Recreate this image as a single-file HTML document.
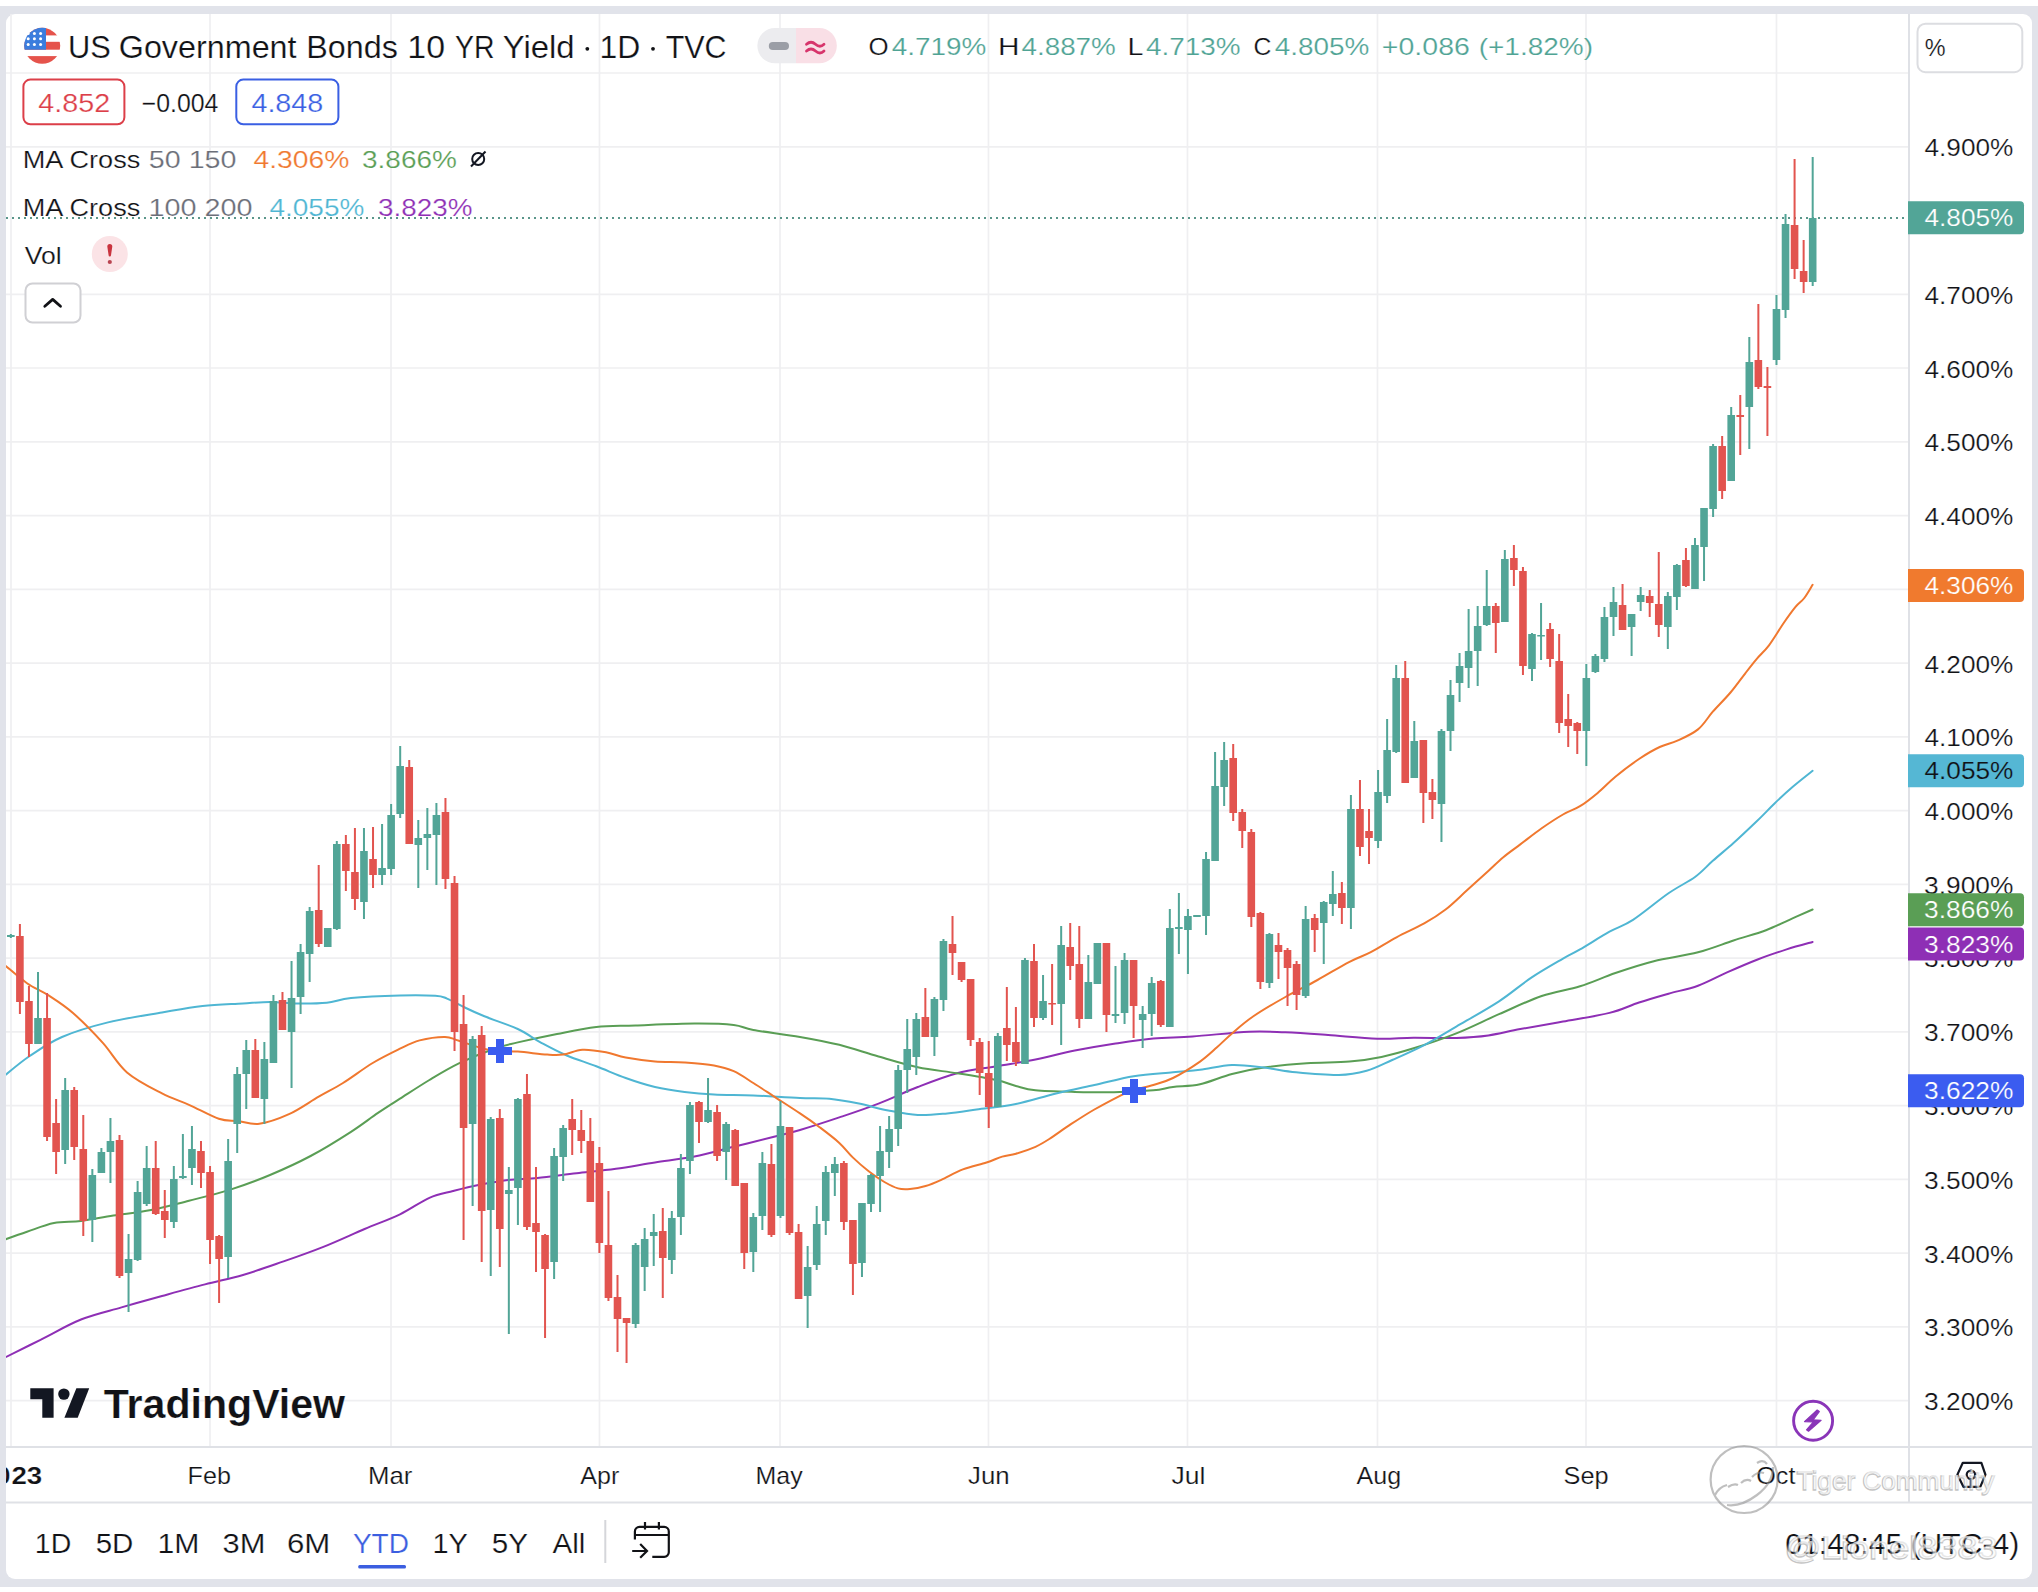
<!DOCTYPE html>
<html><head><meta charset="utf-8">
<style>
html,body{margin:0;padding:0;background:#fff;}
body{width:2038px;height:1592px;overflow:hidden;position:relative;font-family:"Liberation Sans", sans-serif;}
svg{position:absolute;left:0;top:0;}
svg text{font-family:"Liberation Sans", sans-serif;}
</style></head><body>
<svg width="2038" height="1592" viewBox="0 0 2038 1592">
<rect x="0" y="0" width="2038" height="1592" fill="#ffffff"/>
<rect x="0" y="6" width="2038" height="1581" fill="#e1e3ea"/>
<rect x="6" y="14" width="2026" height="1565" rx="9" fill="#ffffff"/>
<path d="M6 73.0H1908 M6 146.8H1908 M6 294.3H1908 M6 368.0H1908 M6 441.8H1908 M6 515.6H1908 M6 589.3H1908 M6 663.1H1908 M6 736.8H1908 M6 810.6H1908 M6 884.4H1908 M6 958.1H1908 M6 1031.9H1908 M6 1105.6H1908 M6 1179.4H1908 M6 1253.2H1908 M6 1326.9H1908 M6 1400.7H1908 M11 14V1446 M210 14V1446 M391 14V1446 M599.5 14V1446 M780 14V1446 M988.5 14V1446 M1187.5 14V1446 M1377.5 14V1446 M1586 14V1446 M1776.5 14V1446" stroke="#efeff1" stroke-width="1.7" fill="none"/>
<path d="M1909 14V1502M6 1447H2032M6 1502.5H2032" stroke="#dfe1e6" stroke-width="2" fill="none"/>
<defs><clipPath id="cp"><rect x="6" y="14" width="1902" height="1432"/></clipPath></defs>
<g clip-path="url(#cp)">
<path d="M5.4 1357.3 C11.2 1354.4 27.9 1346.1 40.5 1339.8 C53.1 1333.5 67.5 1324.9 81.0 1319.5 C94.5 1314.1 108.0 1311.3 121.5 1307.4 C135.0 1303.5 148.1 1299.8 162.0 1296.0 C175.9 1292.2 191.5 1287.9 205.0 1284.4 C218.5 1280.9 229.9 1278.8 243.0 1275.0 C256.1 1271.2 270.1 1266.1 283.6 1261.4 C297.1 1256.7 310.5 1252.0 324.0 1246.6 C337.5 1241.2 351.9 1234.4 364.6 1229.0 C377.3 1223.6 389.2 1219.5 400.0 1214.3 C410.8 1209.1 420.6 1201.7 429.4 1197.8 C438.2 1193.9 444.8 1193.1 453.0 1191.0 C461.2 1188.9 469.3 1186.8 478.5 1185.0 C487.7 1183.2 498.2 1181.2 508.0 1180.0 C517.8 1178.8 526.0 1179.1 537.4 1178.0 C548.8 1176.9 563.5 1174.8 576.6 1173.3 C589.7 1171.8 602.8 1170.6 615.9 1168.8 C629.0 1167.0 641.9 1164.5 655.0 1162.5 C668.1 1160.5 681.3 1159.2 694.4 1156.6 C707.5 1154.0 720.6 1150.1 733.7 1146.8 C746.8 1143.5 762.0 1139.8 773.0 1137.0 C784.0 1134.2 789.0 1133.3 800.0 1130.0 C811.0 1126.7 826.2 1121.8 839.3 1117.4 C852.4 1113.0 865.4 1108.7 878.5 1103.6 C891.6 1098.5 904.7 1092.1 917.8 1087.0 C930.9 1081.9 943.9 1076.7 957.0 1073.2 C970.1 1069.8 983.2 1068.6 996.3 1066.3 C1009.4 1064.0 1022.4 1062.1 1035.5 1059.5 C1048.6 1056.9 1061.7 1053.2 1074.8 1050.6 C1087.9 1048.0 1100.9 1045.8 1114.0 1043.8 C1127.1 1041.8 1140.2 1039.7 1153.3 1038.5 C1166.4 1037.3 1176.5 1037.6 1192.5 1036.5 C1208.5 1035.4 1233.5 1032.4 1249.0 1031.7 C1264.5 1031.0 1272.2 1031.8 1285.4 1032.3 C1298.6 1032.8 1312.8 1033.9 1328.1 1035.0 C1343.4 1036.1 1363.0 1038.2 1377.3 1038.7 C1391.5 1039.2 1400.4 1037.8 1413.6 1037.7 C1426.8 1037.6 1443.8 1038.4 1456.3 1038.0 C1468.8 1037.6 1477.6 1037.0 1488.3 1035.5 C1499.0 1034.0 1507.8 1031.4 1520.3 1029.1 C1532.8 1026.8 1548.1 1024.3 1563.0 1021.6 C1577.9 1018.9 1596.8 1016.1 1609.5 1012.9 C1622.2 1009.7 1629.2 1005.7 1639.0 1002.5 C1648.8 999.3 1658.7 996.5 1668.5 993.7 C1678.3 990.9 1688.2 989.3 1698.0 985.7 C1707.8 982.1 1717.8 976.4 1727.6 972.1 C1737.4 967.8 1747.2 963.5 1757.0 959.7 C1766.8 955.9 1777.3 952.4 1786.6 949.4 C1795.9 946.4 1808.3 943.2 1812.6 942.0" stroke="#8e2fb5" stroke-width="2" fill="none" stroke-linejoin="round" stroke-linecap="round"/>
<path d="M5.4 1239.3 C9.0 1238.0 18.9 1234.4 27.0 1231.7 C35.1 1229.0 45.0 1224.8 54.0 1223.0 C63.0 1221.2 71.1 1222.2 81.0 1221.0 C90.9 1219.8 101.7 1217.3 113.4 1215.5 C125.1 1213.7 138.4 1212.5 151.0 1210.0 C163.6 1207.5 175.9 1204.0 189.0 1200.7 C202.1 1197.4 216.1 1194.2 229.6 1189.9 C243.1 1185.6 256.5 1180.7 270.0 1175.0 C283.5 1169.3 297.1 1163.2 310.6 1156.0 C324.1 1148.8 339.8 1139.0 351.0 1131.8 C362.2 1124.6 369.8 1118.4 378.0 1112.9 C386.2 1107.4 391.4 1104.2 400.0 1098.7 C408.6 1093.2 419.6 1085.9 429.4 1080.0 C439.2 1074.1 448.1 1068.6 458.9 1063.4 C469.7 1058.2 484.4 1052.2 494.2 1048.7 C504.0 1045.2 507.3 1044.9 517.8 1042.4 C528.3 1040.0 543.9 1036.6 557.0 1034.0 C570.1 1031.4 583.2 1028.4 596.3 1027.0 C609.4 1025.6 619.1 1026.1 635.5 1025.5 C651.9 1024.9 678.0 1023.7 694.4 1023.6 C710.8 1023.5 723.9 1023.9 733.7 1025.0 C743.5 1026.1 742.2 1028.0 753.3 1030.0 C764.3 1032.0 785.7 1034.4 800.0 1036.9 C814.3 1039.4 826.2 1041.5 839.3 1044.8 C852.4 1048.1 865.4 1052.8 878.5 1056.5 C891.6 1060.2 904.7 1064.5 917.8 1067.3 C930.9 1070.1 943.9 1071.1 957.0 1073.2 C970.1 1075.3 986.5 1077.9 996.3 1080.0 C1006.1 1082.1 1009.4 1084.3 1015.9 1086.0 C1022.4 1087.7 1025.7 1089.3 1035.5 1090.3 C1045.3 1091.3 1061.7 1091.6 1074.8 1091.9 C1087.9 1092.2 1100.9 1092.5 1114.0 1092.2 C1127.1 1091.9 1143.5 1091.2 1153.3 1090.3 C1163.1 1089.4 1165.2 1088.0 1173.0 1087.0 C1180.8 1086.0 1190.2 1086.5 1200.0 1084.3 C1209.8 1082.1 1221.3 1076.8 1232.0 1074.0 C1242.7 1071.2 1251.5 1069.4 1264.0 1067.6 C1276.5 1065.8 1292.5 1064.3 1306.8 1063.3 C1321.0 1062.3 1337.0 1062.7 1349.5 1061.6 C1362.0 1060.5 1370.8 1059.1 1381.5 1056.9 C1392.2 1054.7 1401.1 1052.2 1413.6 1048.3 C1426.1 1044.4 1442.1 1039.1 1456.3 1033.4 C1470.5 1027.7 1484.8 1020.4 1499.0 1014.2 C1513.2 1008.0 1528.2 1000.6 1541.7 996.0 C1555.2 991.4 1567.7 990.1 1580.0 986.3 C1592.3 982.5 1603.1 977.2 1615.4 973.0 C1627.7 968.8 1640.0 964.7 1653.8 961.2 C1667.6 957.8 1684.7 955.8 1698.0 952.3 C1711.3 948.8 1722.2 944.2 1733.5 940.5 C1744.8 936.8 1756.2 933.9 1766.0 930.2 C1775.8 926.5 1784.7 921.9 1792.5 918.4 C1800.3 914.9 1809.2 911.0 1812.6 909.5" stroke="#5a9e55" stroke-width="2" fill="none" stroke-linejoin="round" stroke-linecap="round"/>
<path d="M5.4 1075.0 C9.4 1071.8 20.3 1062.3 29.7 1056.0 C39.1 1049.7 49.0 1042.6 62.0 1037.0 C75.0 1031.4 91.3 1026.5 108.0 1022.4 C124.7 1018.3 146.2 1015.1 162.0 1012.4 C177.8 1009.7 189.1 1007.5 202.6 1006.0 C216.1 1004.5 231.8 1004.2 243.0 1003.5 C254.2 1002.8 261.0 1002.0 270.0 1002.0 C279.0 1002.0 287.5 1003.4 297.0 1003.5 C306.5 1003.6 317.8 1003.6 326.8 1002.7 C335.8 1001.8 338.8 999.2 351.0 998.0 C363.2 996.8 385.9 995.8 400.0 995.4 C414.1 995.0 427.5 995.2 435.3 995.7 C443.1 996.2 442.1 996.6 447.0 998.6 C451.9 1000.6 458.6 1004.5 464.8 1007.5 C471.0 1010.5 475.6 1012.7 484.4 1016.3 C493.2 1019.9 508.3 1024.6 517.8 1029.0 C527.3 1033.4 533.1 1038.4 541.3 1042.8 C549.5 1047.2 557.6 1051.6 566.8 1055.5 C576.0 1059.4 586.5 1062.5 596.3 1066.3 C606.1 1070.0 615.9 1074.5 625.7 1078.0 C635.5 1081.5 645.2 1084.7 655.0 1087.0 C664.8 1089.3 674.8 1090.7 684.6 1091.9 C694.4 1093.1 702.5 1093.8 714.0 1094.4 C725.5 1095.0 739.0 1094.8 753.3 1095.4 C767.6 1096.0 787.3 1097.5 800.0 1098.0 C812.7 1098.5 819.6 1097.8 829.4 1098.7 C839.2 1099.6 849.1 1101.6 858.9 1103.6 C868.7 1105.6 878.5 1108.6 888.3 1110.5 C898.1 1112.4 908.0 1114.5 917.8 1115.0 C927.6 1115.5 937.4 1114.3 947.2 1113.4 C957.0 1112.5 965.2 1111.1 976.6 1109.5 C988.0 1107.9 1002.8 1106.6 1015.9 1104.0 C1029.0 1101.4 1041.9 1097.0 1055.0 1093.8 C1068.1 1090.6 1081.3 1087.9 1094.4 1085.0 C1107.5 1082.1 1120.6 1078.3 1133.7 1076.2 C1146.8 1074.1 1162.0 1073.3 1173.0 1072.2 C1184.0 1071.1 1190.2 1071.0 1200.0 1069.8 C1209.8 1068.6 1221.3 1065.4 1232.0 1065.0 C1242.7 1064.6 1253.3 1066.4 1264.0 1067.6 C1274.7 1068.8 1283.6 1071.1 1296.1 1072.3 C1308.6 1073.5 1327.0 1075.2 1338.8 1075.0 C1350.5 1074.8 1357.7 1073.3 1366.6 1070.8 C1375.5 1068.3 1382.6 1064.3 1392.2 1060.0 C1401.8 1055.7 1413.5 1050.7 1424.2 1045.1 C1434.9 1039.5 1443.8 1033.9 1456.3 1026.6 C1468.8 1019.3 1486.5 1009.4 1499.0 1001.3 C1511.5 993.2 1520.3 985.0 1531.0 977.9 C1541.7 970.8 1554.8 963.4 1563.0 958.6 C1571.2 953.9 1572.2 953.9 1580.0 949.4 C1587.8 944.9 1600.7 936.6 1609.5 931.7 C1618.3 926.8 1623.2 926.3 1633.0 919.9 C1642.8 913.5 1658.2 900.4 1668.5 893.3 C1678.8 886.1 1687.6 882.4 1695.0 877.0 C1702.4 871.6 1706.4 866.5 1712.8 860.8 C1719.2 855.1 1726.1 849.6 1733.5 843.0 C1740.9 836.4 1750.1 827.6 1757.0 821.0 C1763.9 814.4 1768.9 808.9 1774.8 803.2 C1780.7 797.5 1786.2 792.4 1792.5 787.0 C1798.8 781.6 1809.2 773.5 1812.6 770.8" stroke="#4fb6d3" stroke-width="2" fill="none" stroke-linejoin="round" stroke-linecap="round"/>
<path d="M5.4 965.7 C9.0 968.6 19.8 978.2 27.0 983.2 C34.2 988.2 40.9 990.4 48.6 995.4 C56.3 1000.4 64.0 1005.1 73.0 1013.0 C82.0 1020.9 93.6 1032.7 102.6 1042.6 C111.6 1052.5 117.1 1063.9 127.0 1072.4 C136.9 1080.9 151.7 1088.0 162.0 1093.4 C172.3 1098.8 179.5 1100.6 189.0 1104.8 C198.5 1109.0 210.7 1116.1 218.8 1118.8 C226.9 1121.5 230.9 1120.2 237.7 1121.0 C244.4 1121.8 250.8 1124.8 259.3 1123.7 C267.9 1122.6 279.1 1118.7 289.0 1114.2 C298.9 1109.7 309.7 1101.9 318.7 1096.7 C327.7 1091.5 334.0 1088.6 343.0 1083.0 C352.0 1077.4 363.2 1068.7 372.7 1063.0 C382.2 1057.3 392.2 1052.5 400.0 1048.7 C407.8 1044.9 412.1 1042.4 419.6 1040.4 C427.1 1038.4 438.4 1036.8 445.0 1036.9 C451.6 1037.0 451.7 1038.7 458.9 1040.8 C466.1 1042.9 478.5 1047.9 488.3 1049.7 C498.1 1051.5 508.0 1050.8 517.8 1051.6 C527.6 1052.4 539.7 1054.1 547.2 1054.6 C554.7 1055.1 557.1 1055.4 563.0 1054.6 C568.9 1053.8 575.3 1050.1 582.5 1049.7 C589.7 1049.3 598.8 1050.9 606.0 1052.2 C613.2 1053.5 617.5 1056.0 625.7 1057.5 C633.9 1059.0 645.2 1060.6 655.0 1061.4 C664.8 1062.2 674.8 1061.7 684.6 1062.4 C694.4 1063.1 705.8 1063.9 714.0 1065.4 C722.2 1066.9 727.2 1068.3 733.7 1071.2 C740.2 1074.1 746.8 1078.9 753.3 1083.0 C759.8 1087.1 765.2 1090.7 773.0 1095.8 C780.8 1100.9 792.2 1108.2 800.0 1113.4 C807.8 1118.6 813.1 1122.3 819.6 1127.2 C826.1 1132.1 833.7 1137.8 839.3 1142.9 C844.9 1148.0 848.1 1152.9 853.0 1157.6 C857.9 1162.3 863.5 1167.2 868.7 1171.3 C873.9 1175.4 879.5 1179.2 884.4 1182.0 C889.3 1184.8 893.7 1187.2 898.0 1188.4 C902.3 1189.6 905.4 1189.4 910.0 1189.0 C914.6 1188.6 920.4 1187.5 925.6 1186.0 C930.8 1184.5 935.1 1182.6 941.3 1179.8 C947.5 1177.0 955.4 1172.3 962.9 1169.4 C970.4 1166.5 980.0 1164.6 986.5 1162.5 C993.0 1160.4 997.3 1158.1 1002.2 1156.6 C1007.1 1155.1 1010.5 1155.3 1016.0 1153.7 C1021.5 1152.1 1030.0 1149.2 1035.5 1146.8 C1041.0 1144.3 1043.4 1142.8 1049.3 1139.0 C1055.2 1135.2 1063.4 1129.1 1070.9 1124.2 C1078.4 1119.3 1085.9 1114.4 1094.4 1109.5 C1102.9 1104.6 1115.4 1098.1 1121.9 1094.8 C1128.5 1091.5 1128.5 1091.5 1133.7 1089.9 C1138.9 1088.3 1146.8 1087.0 1153.3 1085.0 C1159.8 1083.0 1165.2 1081.9 1173.0 1078.0 C1180.8 1074.1 1192.7 1066.7 1200.0 1061.6 C1207.3 1056.5 1211.7 1052.0 1217.0 1047.3 C1222.3 1042.6 1225.9 1038.6 1232.0 1033.4 C1238.1 1028.2 1244.5 1022.4 1253.4 1016.3 C1262.3 1010.2 1274.7 1003.0 1285.4 997.0 C1296.1 991.0 1306.8 985.9 1317.5 980.0 C1328.2 974.1 1340.6 966.4 1349.5 961.8 C1358.4 957.2 1363.0 956.3 1370.8 952.2 C1378.6 948.1 1387.6 942.1 1396.5 937.3 C1405.4 932.5 1416.0 928.0 1424.2 923.4 C1432.4 918.8 1438.5 915.0 1445.6 909.5 C1452.7 904.0 1459.9 896.7 1467.0 890.3 C1474.1 883.9 1482.2 876.5 1488.3 871.0 C1494.3 865.5 1498.0 861.6 1503.3 857.2 C1508.6 852.8 1513.9 849.2 1520.3 844.4 C1526.7 839.6 1534.6 833.3 1541.7 828.3 C1548.8 823.3 1556.6 818.2 1563.0 814.5 C1569.4 810.8 1574.2 809.8 1580.0 806.2 C1585.8 802.6 1591.8 797.8 1597.7 792.9 C1603.6 788.0 1608.5 782.4 1615.4 776.7 C1622.3 771.1 1631.6 764.0 1639.0 759.0 C1646.4 754.0 1653.3 750.0 1659.7 747.0 C1666.1 744.0 1671.0 743.6 1677.4 740.7 C1683.8 737.8 1692.1 734.2 1698.0 729.4 C1703.9 724.6 1707.4 717.9 1712.8 711.7 C1718.2 705.6 1725.1 698.9 1730.5 692.5 C1735.9 686.1 1740.9 678.9 1745.3 673.3 C1749.7 667.6 1753.0 663.3 1757.0 658.6 C1761.0 653.9 1764.5 651.2 1769.0 645.3 C1773.5 639.4 1779.3 629.4 1783.7 623.0 C1788.1 616.6 1792.1 611.1 1795.5 606.9 C1798.9 602.7 1801.5 601.7 1804.3 598.0 C1807.1 594.3 1811.2 587.0 1812.6 584.8" stroke="#f0782f" stroke-width="2" fill="none" stroke-linejoin="round" stroke-linecap="round"/>
<path d="M6 218H1908" stroke="#5a968a" stroke-width="2" stroke-dasharray="2 4" fill="none"/>
<path d="M19.90 924.0V1014.0 M28.95 986.0V1057.0 M47.06 993.0V1141.0 M56.12 1099.0V1174.0 M74.23 1087.0V1160.0 M83.28 1115.0V1236.0 M119.50 1135.0V1278.0 M155.72 1141.0V1215.0 M164.77 1190.0V1238.0 M200.99 1141.0V1188.0 M210.04 1166.0V1264.0 M219.10 1235.0V1303.0 M255.32 1039.0V1098.0 M282.48 992.0V1030.0 M318.70 865.0V947.0 M345.86 835.0V891.0 M354.92 828.0V910.0 M373.03 827.0V888.0 M409.24 760.0V844.0 M445.46 798.0V889.0 M454.52 876.0V1051.0 M463.57 995.0V1240.0 M481.68 1026.0V1262.0 M499.79 1109.0V1267.0 M526.95 1074.0V1230.0 M536.01 1167.0V1272.0 M545.06 1234.0V1338.0 M572.22 1099.0V1155.0 M581.28 1110.0V1153.0 M590.33 1118.0V1202.0 M599.39 1147.0V1253.0 M608.44 1191.0V1301.0 M617.50 1275.0V1352.0 M626.55 1318.0V1363.0 M662.77 1208.0V1298.0 M698.99 1101.0V1143.0 M717.10 1105.0V1161.0 M735.21 1129.0V1186.0 M744.26 1183.0V1269.0 M771.42 1144.0V1237.0 M789.53 1127.0V1235.0 M798.59 1224.0V1299.0 M843.86 1161.0V1230.0 M852.91 1220.0V1295.0 M925.35 988.0V1037.0 M952.51 916.0V975.0 M961.57 962.0V982.0 M970.62 979.0V1046.0 M979.68 1038.0V1095.0 M988.73 1041.0V1128.0 M1006.84 987.0V1061.0 M1015.90 1007.0V1066.0 M1034.00 944.0V1027.0 M1052.11 964.0V1025.0 M1070.22 923.0V980.0 M1079.28 926.0V1028.0 M1106.44 943.0V1032.0 M1133.60 960.0V1038.0 M1160.77 980.0V1027.0 M1233.20 744.0V821.0 M1242.26 809.0V848.0 M1251.31 829.0V927.0 M1260.37 912.0V989.0 M1278.48 933.0V979.0 M1287.53 948.0V1006.0 M1296.58 961.0V1010.0 M1314.69 914.0V952.0 M1341.86 882.0V924.0 M1359.97 780.0V856.0 M1369.02 809.0V864.0 M1405.24 661.0V783.0 M1423.35 740.0V823.0 M1432.40 779.0V819.0 M1495.78 603.0V653.0 M1513.89 545.0V586.0 M1522.95 567.0V675.0 M1550.11 623.0V667.0 M1559.17 634.0V733.0 M1568.22 694.0V747.0 M1577.27 722.0V754.0 M1622.55 584.0V630.0 M1649.71 590.0V617.0 M1658.76 552.0V637.0 M1685.93 548.0V587.0 M1722.15 436.0V499.0 M1740.26 395.0V455.0 M1758.36 304.0V389.0 M1767.42 367.0V436.0 M1794.58 159.0V279.0 M1803.64 240.0V293.0" stroke="#e2544f" stroke-width="2" fill="none"/>
<path d="M10.85 934.0V938.0 M38.01 972.0V1044.0 M65.17 1078.0V1164.0 M92.34 1169.0V1242.0 M101.39 1148.0V1173.0 M110.45 1118.0V1183.0 M128.55 1234.0V1312.0 M137.61 1181.0V1261.0 M146.66 1146.0V1206.0 M173.83 1166.0V1228.0 M182.88 1134.0V1179.0 M191.94 1126.0V1185.0 M228.15 1139.0V1278.0 M237.21 1067.0V1153.0 M246.26 1040.0V1109.0 M264.37 1042.0V1124.0 M273.43 995.0V1063.0 M291.54 961.0V1088.0 M300.59 944.0V1014.0 M309.64 907.0V982.0 M327.75 928.0V947.0 M336.81 841.0V930.0 M363.97 828.0V919.0 M382.08 824.0V885.0 M391.13 804.0V875.0 M400.19 746.0V818.0 M418.30 820.0V888.0 M427.35 808.0V870.0 M436.41 803.0V885.0 M472.62 1036.0V1206.0 M490.73 1117.0V1276.0 M508.84 1167.0V1334.0 M517.90 1098.0V1225.0 M554.12 1148.0V1279.0 M563.17 1125.0V1181.0 M635.61 1243.0V1328.0 M644.66 1228.0V1291.0 M653.72 1214.0V1266.0 M671.82 1211.0V1274.0 M680.88 1154.0V1235.0 M689.93 1102.0V1174.0 M708.04 1078.0V1123.0 M726.15 1122.0V1180.0 M753.31 1213.0V1272.0 M762.37 1152.0V1230.0 M780.48 1101.0V1218.0 M807.64 1246.0V1328.0 M816.70 1206.0V1270.0 M825.75 1166.0V1235.0 M834.81 1157.0V1196.0 M861.97 1203.0V1277.0 M871.02 1174.0V1212.0 M880.08 1126.0V1212.0 M889.13 1116.0V1168.0 M898.19 1065.0V1146.0 M907.24 1019.0V1093.0 M916.30 1013.0V1075.0 M934.40 997.0V1056.0 M943.46 939.0V1011.0 M997.79 1033.0V1107.0 M1024.95 958.0V1064.0 M1043.06 975.0V1020.0 M1061.17 926.0V1045.0 M1088.33 955.0V1019.0 M1097.39 943.0V984.0 M1115.49 966.0V1023.0 M1124.55 953.0V1024.0 M1142.66 1006.0V1048.0 M1151.71 977.0V1036.0 M1169.82 909.0V1027.0 M1178.88 893.0V954.0 M1187.93 909.0V974.0 M1196.99 915.0V917.0 M1206.04 852.0V935.0 M1215.09 752.0V861.0 M1224.15 742.0V806.0 M1269.42 933.0V988.0 M1305.64 906.0V998.0 M1323.75 901.0V964.0 M1332.80 871.0V916.0 M1350.91 795.0V929.0 M1378.08 770.0V848.0 M1387.13 719.0V803.0 M1396.18 665.0V753.0 M1414.29 721.0V778.0 M1441.46 729.0V842.0 M1450.51 680.0V751.0 M1459.57 653.0V702.0 M1468.62 609.0V688.0 M1477.67 606.0V686.0 M1486.73 570.0V626.0 M1504.84 550.0V622.0 M1532.00 633.0V681.0 M1541.06 603.0V660.0 M1586.33 664.0V766.0 M1595.38 654.0V673.0 M1604.44 607.0V662.0 M1613.49 587.0V636.0 M1631.60 614.0V656.0 M1640.66 587.0V611.0 M1667.82 592.0V649.0 M1676.87 564.0V610.0 M1694.98 538.0V589.0 M1704.04 508.0V581.0 M1713.09 444.0V517.0 M1731.20 407.0V481.0 M1749.31 337.0V449.0 M1776.47 295.0V365.0 M1785.53 214.0V318.0 M1812.69 157.0V286.0" stroke="#52a597" stroke-width="2" fill="none"/>
<path d="M16.10 936.0h7.6v66.0h-7.6z M25.15 1001.0h7.6v43.0h-7.6z M43.26 1018.0h7.6v119.0h-7.6z M52.32 1123.0h7.6v29.0h-7.6z M70.43 1090.0h7.6v57.0h-7.6z M79.48 1149.0h7.6v72.0h-7.6z M115.70 1140.0h7.6v136.0h-7.6z M151.92 1168.0h7.6v46.0h-7.6z M160.97 1211.0h7.6v9.0h-7.6z M197.19 1151.0h7.6v22.0h-7.6z M206.24 1172.0h7.6v68.0h-7.6z M215.30 1236.0h7.6v23.0h-7.6z M251.52 1050.0h7.6v48.0h-7.6z M278.68 1000.0h7.6v30.0h-7.6z M314.90 910.0h7.6v34.0h-7.6z M342.06 844.0h7.6v27.0h-7.6z M351.12 872.0h7.6v27.0h-7.6z M369.23 859.0h7.6v16.0h-7.6z M405.44 767.0h7.6v77.0h-7.6z M441.66 812.0h7.6v67.0h-7.6z M450.72 883.0h7.6v149.0h-7.6z M459.77 1024.0h7.6v104.0h-7.6z M477.88 1035.0h7.6v176.0h-7.6z M495.99 1118.0h7.6v111.0h-7.6z M523.15 1094.0h7.6v133.0h-7.6z M532.21 1223.0h7.6v9.0h-7.6z M541.26 1235.0h7.6v34.0h-7.6z M568.42 1119.0h7.6v11.0h-7.6z M577.48 1130.0h7.6v11.0h-7.6z M586.53 1141.0h7.6v61.0h-7.6z M595.59 1163.0h7.6v80.0h-7.6z M604.64 1245.0h7.6v53.0h-7.6z M613.70 1297.0h7.6v22.0h-7.6z M622.75 1318.0h7.6v5.0h-7.6z M658.97 1231.0h7.6v27.0h-7.6z M695.19 1102.0h7.6v20.0h-7.6z M713.30 1112.0h7.6v44.0h-7.6z M731.41 1130.0h7.6v56.0h-7.6z M740.46 1183.0h7.6v70.0h-7.6z M767.62 1164.0h7.6v71.0h-7.6z M785.73 1127.0h7.6v106.0h-7.6z M794.79 1232.0h7.6v67.0h-7.6z M840.06 1163.0h7.6v59.0h-7.6z M849.11 1220.0h7.6v44.0h-7.6z M921.55 1017.0h7.6v20.0h-7.6z M948.71 944.0h7.6v9.0h-7.6z M957.77 962.0h7.6v18.0h-7.6z M966.82 979.0h7.6v61.0h-7.6z M975.88 1042.0h7.6v31.0h-7.6z M984.93 1073.0h7.6v34.0h-7.6z M1003.04 1028.0h7.6v17.0h-7.6z M1012.10 1042.0h7.6v20.0h-7.6z M1030.20 961.0h7.6v57.0h-7.6z M1048.31 1003.0h7.6v1.5h-7.6z M1066.42 947.0h7.6v19.0h-7.6z M1075.48 964.0h7.6v55.0h-7.6z M1102.64 943.0h7.6v72.0h-7.6z M1129.80 960.0h7.6v46.0h-7.6z M1156.97 981.0h7.6v44.0h-7.6z M1229.40 758.0h7.6v55.0h-7.6z M1238.46 812.0h7.6v19.0h-7.6z M1247.51 832.0h7.6v85.0h-7.6z M1256.57 913.0h7.6v69.0h-7.6z M1274.68 945.0h7.6v7.0h-7.6z M1283.73 950.0h7.6v18.0h-7.6z M1292.78 964.0h7.6v31.0h-7.6z M1310.89 918.0h7.6v12.0h-7.6z M1338.06 893.0h7.6v15.0h-7.6z M1356.17 809.0h7.6v38.0h-7.6z M1365.22 831.0h7.6v7.0h-7.6z M1401.44 678.0h7.6v105.0h-7.6z M1419.55 740.0h7.6v53.0h-7.6z M1428.60 792.0h7.6v8.0h-7.6z M1491.98 606.0h7.6v17.0h-7.6z M1510.09 558.0h7.6v12.0h-7.6z M1519.15 571.0h7.6v95.0h-7.6z M1546.31 629.0h7.6v30.0h-7.6z M1555.37 661.0h7.6v62.0h-7.6z M1564.42 719.0h7.6v7.0h-7.6z M1573.47 723.0h7.6v8.0h-7.6z M1618.75 605.0h7.6v25.0h-7.6z M1645.91 596.0h7.6v7.0h-7.6z M1654.96 604.0h7.6v21.0h-7.6z M1682.13 560.0h7.6v26.0h-7.6z M1718.35 446.0h7.6v45.0h-7.6z M1736.46 415.0h7.6v2.0h-7.6z M1754.56 360.0h7.6v27.0h-7.6z M1763.62 386.0h7.6v2.0h-7.6z M1790.78 225.0h7.6v44.0h-7.6z M1799.84 271.0h7.6v11.0h-7.6z" fill="#e2544f"/>
<path d="M7.05 935.0h7.6v2.0h-7.6z M34.21 1018.0h7.6v26.0h-7.6z M61.37 1090.0h7.6v60.0h-7.6z M88.54 1175.0h7.6v45.0h-7.6z M97.59 1152.0h7.6v21.0h-7.6z M106.65 1141.0h7.6v11.0h-7.6z M124.75 1259.0h7.6v14.0h-7.6z M133.81 1192.0h7.6v68.0h-7.6z M142.86 1168.0h7.6v36.0h-7.6z M170.03 1179.0h7.6v43.0h-7.6z M179.08 1176.0h7.6v2.0h-7.6z M188.14 1149.0h7.6v19.0h-7.6z M224.35 1161.0h7.6v96.0h-7.6z M233.41 1074.0h7.6v50.0h-7.6z M242.46 1050.0h7.6v24.0h-7.6z M260.57 1059.0h7.6v40.0h-7.6z M269.63 1001.0h7.6v62.0h-7.6z M287.74 998.0h7.6v34.0h-7.6z M296.79 952.0h7.6v45.0h-7.6z M305.84 911.0h7.6v43.0h-7.6z M323.95 928.0h7.6v19.0h-7.6z M333.01 844.0h7.6v85.0h-7.6z M360.17 851.0h7.6v51.0h-7.6z M378.28 868.0h7.6v7.0h-7.6z M387.33 815.0h7.6v54.0h-7.6z M396.39 766.0h7.6v48.0h-7.6z M414.50 838.0h7.6v7.0h-7.6z M423.55 834.0h7.6v4.0h-7.6z M432.61 815.0h7.6v20.0h-7.6z M468.82 1039.0h7.6v85.0h-7.6z M486.93 1119.0h7.6v91.0h-7.6z M505.04 1190.0h7.6v4.0h-7.6z M514.10 1099.0h7.6v89.0h-7.6z M550.32 1156.0h7.6v106.0h-7.6z M559.37 1128.0h7.6v29.0h-7.6z M631.81 1245.0h7.6v79.0h-7.6z M640.86 1239.0h7.6v28.0h-7.6z M649.92 1232.0h7.6v4.0h-7.6z M668.02 1218.0h7.6v42.0h-7.6z M677.08 1168.0h7.6v49.0h-7.6z M686.13 1105.0h7.6v56.0h-7.6z M704.24 1110.0h7.6v12.0h-7.6z M722.35 1124.0h7.6v28.0h-7.6z M749.51 1217.0h7.6v35.0h-7.6z M758.57 1163.0h7.6v53.0h-7.6z M776.68 1126.0h7.6v90.0h-7.6z M803.84 1267.0h7.6v29.0h-7.6z M812.90 1224.0h7.6v41.0h-7.6z M821.95 1172.0h7.6v49.0h-7.6z M831.01 1164.0h7.6v9.0h-7.6z M858.17 1203.0h7.6v60.0h-7.6z M867.22 1175.0h7.6v29.0h-7.6z M876.28 1151.0h7.6v25.0h-7.6z M885.33 1129.0h7.6v23.0h-7.6z M894.39 1070.0h7.6v59.0h-7.6z M903.44 1049.0h7.6v21.0h-7.6z M912.50 1019.0h7.6v38.0h-7.6z M930.60 999.0h7.6v38.0h-7.6z M939.66 941.0h7.6v59.0h-7.6z M993.99 1036.0h7.6v71.0h-7.6z M1021.15 960.0h7.6v104.0h-7.6z M1039.26 1001.0h7.6v17.0h-7.6z M1057.37 945.0h7.6v59.0h-7.6z M1084.53 982.0h7.6v37.0h-7.6z M1093.59 943.0h7.6v41.0h-7.6z M1111.69 1014.0h7.6v2.0h-7.6z M1120.75 960.0h7.6v53.0h-7.6z M1138.86 1014.0h7.6v6.0h-7.6z M1147.91 983.0h7.6v31.0h-7.6z M1166.02 928.0h7.6v99.0h-7.6z M1175.08 927.0h7.6v2.0h-7.6z M1184.13 916.0h7.6v14.0h-7.6z M1193.19 915.0h7.6v2.0h-7.6z M1202.24 859.0h7.6v57.0h-7.6z M1211.29 786.0h7.6v75.0h-7.6z M1220.35 760.0h7.6v27.0h-7.6z M1265.62 934.0h7.6v49.0h-7.6z M1301.84 919.0h7.6v77.0h-7.6z M1319.95 902.0h7.6v21.0h-7.6z M1329.00 894.0h7.6v10.0h-7.6z M1347.11 809.0h7.6v99.0h-7.6z M1374.28 792.0h7.6v49.0h-7.6z M1383.33 750.0h7.6v46.0h-7.6z M1392.38 678.0h7.6v74.0h-7.6z M1410.49 741.0h7.6v37.0h-7.6z M1437.66 731.0h7.6v73.0h-7.6z M1446.71 695.0h7.6v36.0h-7.6z M1455.77 666.0h7.6v17.0h-7.6z M1464.82 651.0h7.6v17.0h-7.6z M1473.87 626.0h7.6v25.0h-7.6z M1482.93 606.0h7.6v19.0h-7.6z M1501.04 559.0h7.6v63.0h-7.6z M1528.20 634.0h7.6v35.0h-7.6z M1537.26 635.0h7.6v1.5h-7.6z M1582.53 678.0h7.6v53.0h-7.6z M1591.58 656.0h7.6v16.0h-7.6z M1600.64 617.0h7.6v42.0h-7.6z M1609.69 602.0h7.6v15.0h-7.6z M1627.80 614.0h7.6v13.0h-7.6z M1636.86 595.0h7.6v7.0h-7.6z M1664.02 596.0h7.6v31.0h-7.6z M1673.07 565.0h7.6v32.0h-7.6z M1691.18 545.0h7.6v44.0h-7.6z M1700.24 508.0h7.6v39.0h-7.6z M1709.29 446.0h7.6v63.0h-7.6z M1727.40 415.0h7.6v66.0h-7.6z M1745.51 362.0h7.6v45.0h-7.6z M1772.67 309.0h7.6v51.0h-7.6z M1781.73 224.0h7.6v86.0h-7.6z M1808.89 218.0h7.6v64.0h-7.6z" fill="#52a597"/>
</g>
<path d="M488 1047h8v-8h8v8h8v8h-8v8h-8v-8h-8z" fill="#3a5cf0"/>
<path d="M1122 1087h8v-8h8v8h8v8h-8v8h-8v-8h-8z" fill="#3a5cf0"/>
<defs><clipPath id="flag"><circle cx="42.2" cy="45.8" r="18"/></clipPath></defs>
<g clip-path="url(#flag)"><rect x="24" y="27" width="37" height="37" fill="#ffffff"/><rect x="24" y="27" width="37" height="8.4" fill="#e5534b"/><rect x="24" y="41.8" width="37" height="7.9" fill="#e5534b"/><rect x="24" y="56.1" width="37" height="8" fill="#e5534b"/><rect x="24" y="27" width="22" height="22.7" fill="#3b7ddd"/></g>
<circle cx="28.2" cy="33.5" r="1.5" fill="#ffffff"/><circle cx="28.2" cy="38.8" r="1.5" fill="#ffffff"/><circle cx="28.2" cy="44.6" r="1.5" fill="#ffffff"/><circle cx="34.4" cy="33.5" r="1.5" fill="#ffffff"/><circle cx="34.4" cy="38.8" r="1.5" fill="#ffffff"/><circle cx="34.4" cy="44.6" r="1.5" fill="#ffffff"/><circle cx="40.6" cy="33.5" r="1.5" fill="#ffffff"/><circle cx="40.6" cy="38.8" r="1.5" fill="#ffffff"/><circle cx="40.6" cy="44.6" r="1.5" fill="#ffffff"/>
<text x="67.99" y="58" font-size="31.5" fill="#111216" textLength="42.8" lengthAdjust="spacingAndGlyphs" stroke="#ffffff" stroke-width="0.22">US</text>
<text x="118.78" y="58" font-size="31.5" fill="#111216" textLength="177.8" lengthAdjust="spacingAndGlyphs" stroke="#ffffff" stroke-width="0.22">Government</text>
<text x="306.21" y="58" font-size="31.5" fill="#111216" textLength="91.6" lengthAdjust="spacingAndGlyphs" stroke="#ffffff" stroke-width="0.22">Bonds</text>
<text x="407.36" y="58" font-size="31.5" fill="#111216" textLength="37.7" lengthAdjust="spacingAndGlyphs" stroke="#ffffff" stroke-width="0.22">10</text>
<text x="455.03" y="58" font-size="31.5" fill="#111216" textLength="39.5" lengthAdjust="spacingAndGlyphs" stroke="#ffffff" stroke-width="0.22">YR</text>
<text x="502.74" y="58" font-size="31.5" fill="#111216" textLength="71.9" lengthAdjust="spacingAndGlyphs" stroke="#ffffff" stroke-width="0.22">Yield</text>
<text x="599.6" y="58" font-size="31.5" fill="#111216" textLength="40.8" lengthAdjust="spacingAndGlyphs" stroke="#ffffff" stroke-width="0.22">1D</text>
<text x="665.69" y="58" font-size="31.5" fill="#111216" textLength="60.9" lengthAdjust="spacingAndGlyphs" stroke="#ffffff" stroke-width="0.22">TVC</text>
<circle cx="587.3" cy="48.8" r="1.9" fill="#111216"/><circle cx="653" cy="48.8" r="1.9" fill="#111216"/>
<path d="M775 28H796V63.3H775A17.65 17.65 0 0 1 775 28Z" fill="#ececef"/>
<path d="M796 28H819.2A17.65 17.65 0 0 1 819.2 63.3H796Z" fill="#f9dfe6"/>
<path d="M772.8 46H785" stroke="#9b9ea6" stroke-width="8" stroke-linecap="round"/>
<path d="M806.5 44.2q4.5-4 9 0t8.5 0M806.5 51q4.5-4 9 0t8.5 0" stroke="#d7346b" stroke-width="2.8" fill="none" stroke-linecap="round"/>
<text x="868.64" y="55.4" font-size="24" fill="#111216" textLength="20.1" lengthAdjust="spacingAndGlyphs" stroke="#ffffff" stroke-width="0.22">O</text>
<text x="891.84" y="55.4" font-size="24" fill="#4fa394" textLength="94.6" lengthAdjust="spacingAndGlyphs" stroke="#ffffff" stroke-width="0.22">4.719%</text>
<text x="997.91" y="55.4" font-size="24" fill="#111216" textLength="21.5" lengthAdjust="spacingAndGlyphs" stroke="#ffffff" stroke-width="0.22">H</text>
<text x="1021.44" y="55.4" font-size="24" fill="#4fa394" textLength="94.4" lengthAdjust="spacingAndGlyphs" stroke="#ffffff" stroke-width="0.22">4.887%</text>
<text x="1127.62" y="55.4" font-size="24" fill="#111216" textLength="15.9" lengthAdjust="spacingAndGlyphs" stroke="#ffffff" stroke-width="0.22">L</text>
<text x="1146.04" y="55.4" font-size="24" fill="#4fa394" textLength="94.6" lengthAdjust="spacingAndGlyphs" stroke="#ffffff" stroke-width="0.22">4.713%</text>
<text x="1253.46" y="55.4" font-size="24" fill="#111216" textLength="17.9" lengthAdjust="spacingAndGlyphs" stroke="#ffffff" stroke-width="0.22">C</text>
<text x="1274.74" y="55.4" font-size="24" fill="#4fa394" textLength="94.7" lengthAdjust="spacingAndGlyphs" stroke="#ffffff" stroke-width="0.22">4.805%</text>
<text x="1381.87" y="55.4" font-size="24" fill="#4fa394" textLength="88.0" lengthAdjust="spacingAndGlyphs" stroke="#ffffff" stroke-width="0.22">+0.086</text>
<text x="1478.72" y="55.4" font-size="24" fill="#4fa394" textLength="114.3" lengthAdjust="spacingAndGlyphs" stroke="#ffffff" stroke-width="0.22">(+1.82%)</text>
<rect x="23.4" y="79.6" width="101" height="44.7" rx="7" fill="none" stroke="#dc3f49" stroke-width="2"/>
<text x="38.33" y="112" font-size="25.5" fill="#dc3f49" textLength="71.9" lengthAdjust="spacingAndGlyphs" stroke="#ffffff" stroke-width="0.22">4.852</text>
<text x="141.76" y="112" font-size="25.5" fill="#111216" textLength="76.7" lengthAdjust="spacingAndGlyphs" stroke="#ffffff" stroke-width="0.22">−0.004</text>
<rect x="236.3" y="79.6" width="102.1" height="44.7" rx="7" fill="none" stroke="#3a5fe3" stroke-width="2"/>
<text x="251.43" y="112" font-size="25.5" fill="#3a5fe3" textLength="71.8" lengthAdjust="spacingAndGlyphs" stroke="#ffffff" stroke-width="0.22">4.848</text>
<text x="22.73" y="167.5" font-size="24.5" fill="#111216" textLength="117.6" lengthAdjust="spacingAndGlyphs" stroke="#ffffff" stroke-width="0.22">MA Cross</text>
<text x="148.85" y="167.5" font-size="24.5" fill="#6b6e78" textLength="87.6" lengthAdjust="spacingAndGlyphs" stroke="#ffffff" stroke-width="0.22">50 150</text>
<text x="253.43" y="167.5" font-size="24.5" fill="#f0782f" textLength="96.0" lengthAdjust="spacingAndGlyphs" stroke="#ffffff" stroke-width="0.22">4.306%</text>
<text x="362.02" y="167.5" font-size="24.5" fill="#5a9e55" textLength="94.9" lengthAdjust="spacingAndGlyphs" stroke="#ffffff" stroke-width="0.22">3.866%</text>
<circle cx="478.2" cy="159" r="6" fill="none" stroke="#131722" stroke-width="2"/><path d="M471 166.5L485.5 151.5" stroke="#131722" stroke-width="2"/>
<text x="22.73" y="215.5" font-size="24.5" fill="#111216" textLength="117.6" lengthAdjust="spacingAndGlyphs" stroke="#ffffff" stroke-width="0.22">MA Cross</text>
<text x="148.54" y="215.5" font-size="24.5" fill="#6b6e78" textLength="104.1" lengthAdjust="spacingAndGlyphs" stroke="#ffffff" stroke-width="0.22">100 200</text>
<text x="269.44" y="215.5" font-size="24.5" fill="#4fb6d3" textLength="94.9" lengthAdjust="spacingAndGlyphs" stroke="#ffffff" stroke-width="0.22">4.055%</text>
<text x="378.03" y="215.5" font-size="24.5" fill="#8e2fb5" textLength="94.5" lengthAdjust="spacingAndGlyphs" stroke="#ffffff" stroke-width="0.22">3.823%</text>
<text x="24.77" y="263.6" font-size="24.5" fill="#111216" textLength="37.0" lengthAdjust="spacingAndGlyphs" stroke="#ffffff" stroke-width="0.22">Vol</text>
<circle cx="109.8" cy="254" r="18" fill="#fbe3e6"/>
<path d="M107.3 246.6a2.5 2.5 0 0 1 5 0L111 255.2a1.2 1.2 0 0 1-2.4 0Z" fill="#c9343e"/><circle cx="109.8" cy="262" r="2.1" fill="#b94450"/>
<rect x="25.5" y="283.5" width="55" height="39" rx="7" fill="#ffffff" stroke="#d0d0d4" stroke-width="2"/>
<path d="M44.8 306.3L52.7 299.4L60.5 306.3" stroke="#111216" stroke-width="2.8" fill="none" stroke-linecap="round" stroke-linejoin="round"/>
<text x="1924.48" y="155.5" font-size="24" fill="#111216" textLength="88.9" lengthAdjust="spacingAndGlyphs" stroke="#ffffff" stroke-width="0.22">4.900%</text>
<text x="1924.48" y="303.5" font-size="24" fill="#111216" textLength="88.9" lengthAdjust="spacingAndGlyphs" stroke="#ffffff" stroke-width="0.22">4.700%</text>
<text x="1924.48" y="377.5" font-size="24" fill="#111216" textLength="88.9" lengthAdjust="spacingAndGlyphs" stroke="#ffffff" stroke-width="0.22">4.600%</text>
<text x="1924.48" y="451.0" font-size="24" fill="#111216" textLength="88.9" lengthAdjust="spacingAndGlyphs" stroke="#ffffff" stroke-width="0.22">4.500%</text>
<text x="1924.48" y="524.5" font-size="24" fill="#111216" textLength="88.9" lengthAdjust="spacingAndGlyphs" stroke="#ffffff" stroke-width="0.22">4.400%</text>
<text x="1924.48" y="673.0" font-size="24" fill="#111216" textLength="88.9" lengthAdjust="spacingAndGlyphs" stroke="#ffffff" stroke-width="0.22">4.200%</text>
<text x="1924.48" y="746.0" font-size="24" fill="#111216" textLength="88.9" lengthAdjust="spacingAndGlyphs" stroke="#ffffff" stroke-width="0.22">4.100%</text>
<text x="1924.48" y="819.5" font-size="24" fill="#111216" textLength="88.9" lengthAdjust="spacingAndGlyphs" stroke="#ffffff" stroke-width="0.22">4.000%</text>
<text x="1924.08" y="893.5" font-size="24" fill="#111216" textLength="89.3" lengthAdjust="spacingAndGlyphs" stroke="#ffffff" stroke-width="0.22">3.900%</text>
<text x="1924.08" y="967.0" font-size="24" fill="#111216" textLength="89.3" lengthAdjust="spacingAndGlyphs" stroke="#ffffff" stroke-width="0.22">3.800%</text>
<text x="1924.08" y="1040.5" font-size="24" fill="#111216" textLength="89.3" lengthAdjust="spacingAndGlyphs" stroke="#ffffff" stroke-width="0.22">3.700%</text>
<text x="1924.08" y="1114.5" font-size="24" fill="#111216" textLength="89.3" lengthAdjust="spacingAndGlyphs" stroke="#ffffff" stroke-width="0.22">3.600%</text>
<text x="1924.08" y="1188.5" font-size="24" fill="#111216" textLength="89.3" lengthAdjust="spacingAndGlyphs" stroke="#ffffff" stroke-width="0.22">3.500%</text>
<text x="1924.08" y="1262.5" font-size="24" fill="#111216" textLength="89.3" lengthAdjust="spacingAndGlyphs" stroke="#ffffff" stroke-width="0.22">3.400%</text>
<text x="1924.08" y="1336.0" font-size="24" fill="#111216" textLength="89.3" lengthAdjust="spacingAndGlyphs" stroke="#ffffff" stroke-width="0.22">3.300%</text>
<text x="1924.08" y="1409.5" font-size="24" fill="#111216" textLength="89.3" lengthAdjust="spacingAndGlyphs" stroke="#ffffff" stroke-width="0.22">3.200%</text>
<path d="M1908 201.3H2020a4 4 0 0 1 4 4V230.3a4 4 0 0 1-4 4H1908Z" fill="#52a597"/>
<text x="1924.48" y="226.3" font-size="24" fill="#ffffff" textLength="88.9" lengthAdjust="spacingAndGlyphs" stroke="#52a597" stroke-width="0.22">4.805%</text>
<path d="M1908 569.0H2020a4 4 0 0 1 4 4V598.0a4 4 0 0 1-4 4H1908Z" fill="#f07a2e"/>
<text x="1924.48" y="594.0" font-size="24" fill="#ffffff" textLength="88.9" lengthAdjust="spacingAndGlyphs" stroke="#f07a2e" stroke-width="0.22">4.306%</text>
<path d="M1908 754.3H2020a4 4 0 0 1 4 4V783.3a4 4 0 0 1-4 4H1908Z" fill="#55b7d4"/>
<text x="1924.48" y="779.3" font-size="24" fill="#111216" textLength="88.9" lengthAdjust="spacingAndGlyphs" stroke="#55b7d4" stroke-width="0.22">4.055%</text>
<path d="M1908 893.3H2020a4 4 0 0 1 4 4V922.3a4 4 0 0 1-4 4H1908Z" fill="#5a9e55"/>
<text x="1924.08" y="918.3" font-size="24" fill="#ffffff" textLength="89.3" lengthAdjust="spacingAndGlyphs" stroke="#5a9e55" stroke-width="0.22">3.866%</text>
<path d="M1908 927.6H2020a4 4 0 0 1 4 4V956.6a4 4 0 0 1-4 4H1908Z" fill="#8e2fb5"/>
<text x="1924.08" y="952.6" font-size="24" fill="#ffffff" textLength="89.3" lengthAdjust="spacingAndGlyphs" stroke="#8e2fb5" stroke-width="0.22">3.823%</text>
<path d="M1908 1074.2H2020a4 4 0 0 1 4 4V1103.2a4 4 0 0 1-4 4H1908Z" fill="#3b5cf0"/>
<text x="1924.08" y="1099.2" font-size="24" fill="#ffffff" textLength="89.3" lengthAdjust="spacingAndGlyphs" stroke="#3b5cf0" stroke-width="0.22">3.622%</text>
<rect x="1917.5" y="23.7" width="104.8" height="48.5" rx="8" fill="#ffffff" stroke="#dcdde1" stroke-width="2"/>
<text x="1924.78" y="56.2" font-size="24" fill="#111216" textLength="20.8" lengthAdjust="spacingAndGlyphs" stroke="#ffffff" stroke-width="0.22">%</text>
<text x="187.59" y="1484" font-size="24" fill="#111216" textLength="43.3" lengthAdjust="spacingAndGlyphs" stroke="#ffffff" stroke-width="0.22">Feb</text>
<text x="367.94" y="1484" font-size="24" fill="#111216" textLength="44.4" lengthAdjust="spacingAndGlyphs" stroke="#ffffff" stroke-width="0.22">Mar</text>
<text x="580.3" y="1484" font-size="24" fill="#111216" textLength="39.0" lengthAdjust="spacingAndGlyphs" stroke="#ffffff" stroke-width="0.22">Apr</text>
<text x="755.51" y="1484" font-size="24" fill="#111216" textLength="47.1" lengthAdjust="spacingAndGlyphs" stroke="#ffffff" stroke-width="0.22">May</text>
<text x="968.01" y="1484" font-size="24" fill="#111216" textLength="41.6" lengthAdjust="spacingAndGlyphs" stroke="#ffffff" stroke-width="0.22">Jun</text>
<text x="1171.4" y="1484" font-size="24" fill="#111216" textLength="33.9" lengthAdjust="spacingAndGlyphs" stroke="#ffffff" stroke-width="0.22">Jul</text>
<text x="1356.6" y="1484" font-size="24" fill="#111216" textLength="44.6" lengthAdjust="spacingAndGlyphs" stroke="#ffffff" stroke-width="0.22">Aug</text>
<text x="1563.56" y="1484" font-size="24" fill="#111216" textLength="45.1" lengthAdjust="spacingAndGlyphs" stroke="#ffffff" stroke-width="0.22">Sep</text>
<text x="1756.27" y="1484" font-size="24" fill="#111216" textLength="39.1" lengthAdjust="spacingAndGlyphs" stroke="#ffffff" stroke-width="0.22">Oct</text>
<text x="11.43" y="1484" font-size="24" fill="#111216" font-weight="bold" textLength="30.8" lengthAdjust="spacingAndGlyphs" stroke="#ffffff" stroke-width="0.22">23</text>
<text x="-3.5" y="1484" font-size="24" fill="#111216" font-weight="bold" textLength="13.9" lengthAdjust="spacingAndGlyphs" stroke="#ffffff" stroke-width="0.22">0</text>
<text x="34.86" y="1553.2" font-size="28" fill="#111216" textLength="36.5" lengthAdjust="spacingAndGlyphs" stroke="#ffffff" stroke-width="0.22">1D</text>
<text x="95.72" y="1553.2" font-size="28" fill="#111216" textLength="37.7" lengthAdjust="spacingAndGlyphs" stroke="#ffffff" stroke-width="0.22">5D</text>
<text x="157.44" y="1553.2" font-size="28" fill="#111216" textLength="41.9" lengthAdjust="spacingAndGlyphs" stroke="#ffffff" stroke-width="0.22">1M</text>
<text x="222.52" y="1553.2" font-size="28" fill="#111216" textLength="42.9" lengthAdjust="spacingAndGlyphs" stroke="#ffffff" stroke-width="0.22">3M</text>
<text x="286.94" y="1553.2" font-size="28" fill="#111216" textLength="43.4" lengthAdjust="spacingAndGlyphs" stroke="#ffffff" stroke-width="0.22">6M</text>
<text x="352.94" y="1553.2" font-size="28" fill="#3b5ee0" textLength="56.0" lengthAdjust="spacingAndGlyphs" stroke="#ffffff" stroke-width="0.22">YTD</text>
<text x="432.43" y="1553.2" font-size="28" fill="#111216" textLength="35.4" lengthAdjust="spacingAndGlyphs" stroke="#ffffff" stroke-width="0.22">1Y</text>
<text x="491.82" y="1553.2" font-size="28" fill="#111216" textLength="36.2" lengthAdjust="spacingAndGlyphs" stroke="#ffffff" stroke-width="0.22">5Y</text>
<text x="552.4" y="1553.2" font-size="28" fill="#111216" textLength="32.9" lengthAdjust="spacingAndGlyphs" stroke="#ffffff" stroke-width="0.22">All</text>
<rect x="358.2" y="1565" width="47.8" height="3.6" rx="1.5" fill="#3b5ee0"/>
<path d="M605.3 1520V1563" stroke="#d5d6da" stroke-width="2"/>
<path d="M634.9 1539.4V1531.5a4.6 4.6 0 0 1 4.6-4.6H664.2a4.6 4.6 0 0 1 4.6 4.6V1552.3a4.6 4.6 0 0 1-4.6 4.6H652.3M634.9 1535H668.8M645 1522V1529.6M658.9 1522V1529.6M632.2 1551H647M640.2 1544.1L647 1551L640.2 1557.8" stroke="#111216" stroke-width="2.2" fill="none"/>
<path d="M30.3 1388.2H53.6V1417.7H42.3V1399.3H30.3Z" fill="#131722"/>
<circle cx="63.9" cy="1394.1" r="5.7" fill="#131722"/>
<path d="M76.4 1388.2H89.2L77.7 1417.7H64.4Z" fill="#131722"/>
<text x="103.79" y="1417.7" font-size="40" fill="#111216" font-weight="bold" textLength="241.3" lengthAdjust="spacingAndGlyphs" stroke="#ffffff" stroke-width="0.22">TradingView</text>
<circle cx="1813.1" cy="1420.7" r="19.5" fill="#ffffff" stroke="#8a35b8" stroke-width="2.9"/>
<path d="M1817.2 1410L1819.3 1411.6L1813.1 1419.8L1821.1 1420.3L1808.5 1431.2L1806.5 1429.8L1813.4 1422L1804.5 1421.6Z" fill="#8a35b8" stroke="#8a35b8" stroke-width="1.2" stroke-linejoin="round"/>
<path d="M1962.8 1462.8H1981.4L1985.4 1474.6L1980.3 1486.8H1963.4L1957.4 1474.6Z" fill="none" stroke="#131722" stroke-width="2.2" stroke-linejoin="round"/>
<circle cx="1970.9" cy="1474.8" r="4.2" fill="none" stroke="#131722" stroke-width="2.2"/><path d="M1970.9 1479V1486" stroke="#131722" stroke-width="2.2"/>
<text x="1785.2" y="1554" font-size="29" fill="#111216" textLength="234.0" lengthAdjust="spacingAndGlyphs" stroke="#ffffff" stroke-width="0.22">01:48:45 (UTC-4)</text>
<g opacity="0.55" fill="none" stroke="#8c8c8c" stroke-width="2.2"><circle cx="1744.1" cy="1479.5" r="33.5"/><path d="M1727 1505q14 2 30-10t16-28"/><path d="M1715 1495q4-8 12-10M1728 1487q6-4 10-2M1741 1483q5-5 10-2M1752 1477q6-6 12-4"/><path d="M1757 1463q6-4 10 1"/></g>
<g opacity="0.5">
<text x="1796.6" y="1489.6" font-size="25.5" fill="none" textLength="197.8" lengthAdjust="spacingAndGlyphs" stroke="#8c8c8c" stroke-width="1.3">Tiger Community</text>
<text x="1784.4" y="1559" font-size="31" fill="none" textLength="213.0" lengthAdjust="spacingAndGlyphs" stroke="#8c8c8c" stroke-width="1.3">@Lionel8383</text>
</g>
<g opacity="0.6">
<text x="1797.4" y="1488.7" font-size="25.5" fill="#ffffff" textLength="197.6" lengthAdjust="spacingAndGlyphs">Tiger Community</text>
<text x="1785.2" y="1558" font-size="31" fill="#ffffff" textLength="213.0" lengthAdjust="spacingAndGlyphs">@Lionel8383</text>
</g>
<rect x="0" y="6" width="6" height="1581" fill="#e1e3ea"/>
</svg>
</body></html>
